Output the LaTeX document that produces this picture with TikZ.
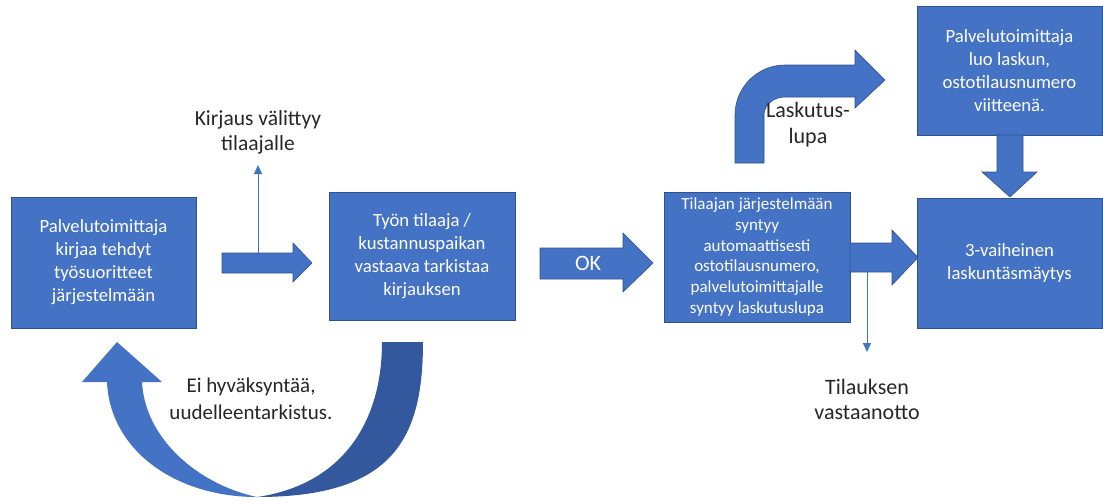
\documentclass[tikz,border=0pt]{standalone}
\usepackage{fontspec}
\setmainfont{Carlito}
\usetikzlibrary{arrows.meta}
\definecolor{boxblue}{RGB}{68,114,196}
\definecolor{boxedge}{RGB}{47,82,143}
\definecolor{deepblue}{RGB}{52,88,158}
\definecolor{ink}{RGB}{38,38,38}
\begin{document}
\begin{tikzpicture}[x=1pt,y=-1pt,
  procbox/.style={draw=boxedge,line width=0.8pt,fill=boxblue,text=white,
    align=center,inner sep=0pt,
    font=\fontsize{18.7}{23}\selectfont},
  blockarrow/.style={draw=boxedge,line width=0.6pt,fill=boxblue},
  note/.style={text=ink,align=center,inner sep=0pt,
    font=\fontsize{21.5}{25.5}\selectfont},
  thin/.style={draw=boxblue,line width=1pt,-{Triangle[width=8pt,length=9pt]}}]
\useasboundingbox (0,0) rectangle (1103,501);

% process boxes
\node[procbox,minimum width=185,minimum height=131] (rec) at (103.5,262.5)
  {Palvelutoimittaja\\kirjaa tehdyt\\työsuoritteet\\järjestelmään};
\node[procbox,minimum width=186,minimum height=128] (chk) at (422,256)
  {Työn tilaaja /\\kustannuspaikan\\vastaava tarkistaa\\kirjauksen};
\node[procbox,minimum width=186,minimum height=130,
  font=\fontsize{17}{20.7}\selectfont] (po) at (757,257)
  {Tilaajan järjestelmään\\syntyy\\automaattisesti\\ostotilausnumero,\\palvelutoimittajalle\\syntyy laskutuslupa};
\node[procbox,minimum width=185,minimum height=130] (match) at (1009.5,263)
  {3-vaiheinen\\laskuntäsmäytys};
\node[procbox,minimum width=185,minimum height=129] (inv) at (1009.5,70.5)
  {Palvelutoimittaja\\luo laskun,\\ostotilausnumero\\viitteenä.};

% block arrows between the boxes
\path[blockarrow] (222,253) -- (293,253) -- (293,243) -- (312,263)
  -- (293,282) -- (293,273) -- (222,273) -- cycle;
\path[blockarrow] (540,248) -- (623,248) -- (623,233) -- (653,263)
  -- (623,292) -- (623,279) -- (540,279) -- cycle;
\node[text=white,inner sep=0pt,font=\fontsize{22}{26}\selectfont] (ok) at (588,263) {OK};
\path[blockarrow] (850,243) -- (892,243) -- (892,230) -- (918,257.5)
  -- (892,285) -- (892,272) -- (850,272) -- cycle;
\path[blockarrow] (997,135) -- (1023,135) -- (1023,172) -- (1037,172)
  -- (1010,197) -- (982,172) -- (997,172) -- cycle;

% bent arrow towards the invoice box
\path[blockarrow] (735,163) -- (735,115) arc[start angle=180,end angle=270,radius=50]
  -- (855,65) -- (855,50) -- (885,80) -- (855,108) -- (855,97) -- (785,97)
  arc[start angle=270,end angle=180,x radius=21,y radius=18] -- (764,163) -- cycle;
\node[note,font=\fontsize{22}{26}\selectfont] (lupa) at (808,125) {Laskutus-\\lupa};

% U-turn arrow back to the first box
\path[fill=deepblue] (257,497) .. controls (392,497) and (423,440) .. (423,342)
  -- (382,342) .. controls (382,425) and (340,485) .. (257,497) -- cycle;
\path[fill=boxblue] (257,497) .. controls (175,497) and (110,450) .. (107,382)
  -- (82,382) -- (117,342) -- (162,382) -- (142,382)
  .. controls (145,440) and (200,485) .. (257,497) -- cycle;
\node[note,font=\fontsize{21}{27}\selectfont] (reject) at (251,398.5)
  {Ei hyväksyntää,\\uudelleentarkistus.};

% side notes with thin arrows
\node[note] (fwd) at (258,132.5) {Kirjaus välittyy\\tilaajalle};
\coordinate (fwd0) at (258,253);
\coordinate (fwd1) at (258,165);
\draw[thin] (fwd0) -- (fwd1);

\node[note,font=\fontsize{22}{25}\selectfont] (ack) at (867,399.5) {Tilauksen\\vastaanotto};
\coordinate (ack0) at (867,272);
\coordinate (ack1) at (867,352);
\draw[thin] (ack0) -- (ack1);
\end{tikzpicture}
\end{document}
